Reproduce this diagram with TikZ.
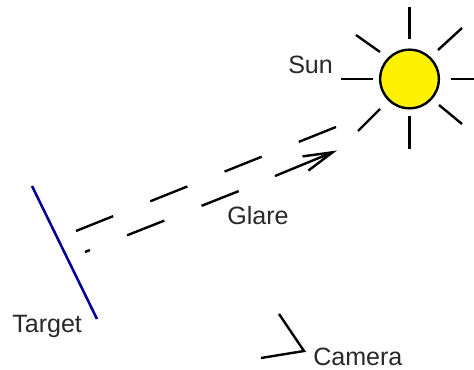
\documentclass[tikz,border=0pt]{standalone}
\usepackage{fontspec}
\setmainfont{Liberation Sans}
\usepackage{xcolor}
\usetikzlibrary{arrows.meta}
\definecolor{targetblue}{RGB}{0,0,150}
\definecolor{labelgray}{RGB}{40,40,40}

\begin{document}
\begin{tikzpicture}[x=0.75pt,y=-0.75pt,
    ray/.style={line width=1.8pt},
    glare/.style={line width=1.8pt,dash pattern=on 30pt off 30pt},
    label text/.style={anchor=base west,inner sep=0pt,text=labelgray,font=\fontsize{18.8}{20}\selectfont}]
      \useasboundingbox (0,0) rectangle (474,370);
      \node[circle,draw=black,fill=yellow,line width=1.8pt,minimum size=44pt,inner sep=0pt,outer sep=0pt] (sun) at (409.5,79) {};
      \draw[ray] (409.5,7) -- (409.5,39);
      \draw[ray] (438,50) -- (462,28);
      \draw[ray] (356,35) -- (380,52);
      \draw[ray] (341,79) -- (373,79);
      \draw[ray] (451,79) -- (474,79);
      \draw[ray] (380,109) -- (358,131);
      \draw[ray] (409.5,116) -- (409.5,149);
      \draw[ray] (439,105) -- (462,124);
      \node[label text] (sunlabel) at (288,73.5) {Sun};
      \coordinate (upperstart) at (76,231);
      \coordinate (upperend) at (336,127);
      \draw[glare] (upperstart) -- (upperend);
      \coordinate (lowerstart) at (85,252);
      \coordinate (lowerend) at (239,191);
      \draw[glare,dash phase=26pt] (lowerstart) -- (lowerend);
      \coordinate (arrowstart) at (275,176);
      \coordinate (arrowend) at (337,150.5);
      \draw[ray,-{Straight Barb[length=22pt,width=11.5pt]}] (arrowstart) -- (arrowend);
      \node[label text] (glarelabel) at (227,224) {Glare};
      \coordinate (targettop) at (32,186);
      \coordinate (targetbottom) at (97,319);
      \draw[targetblue,line width=1.9pt] (targettop) -- (targetbottom);
      \node[label text] (targetlabel) at (12,332) {Target};
      \coordinate (camerafront) at (279,314);
      \coordinate (cameracorner) at (304,351);
      \coordinate (cameraback) at (261,358);
      \draw[ray] (camerafront) -- (cameracorner) -- (cameraback);
      \node[label text] (cameralabel) at (313,365) {Camera};
    \end{tikzpicture}
\end{document}
